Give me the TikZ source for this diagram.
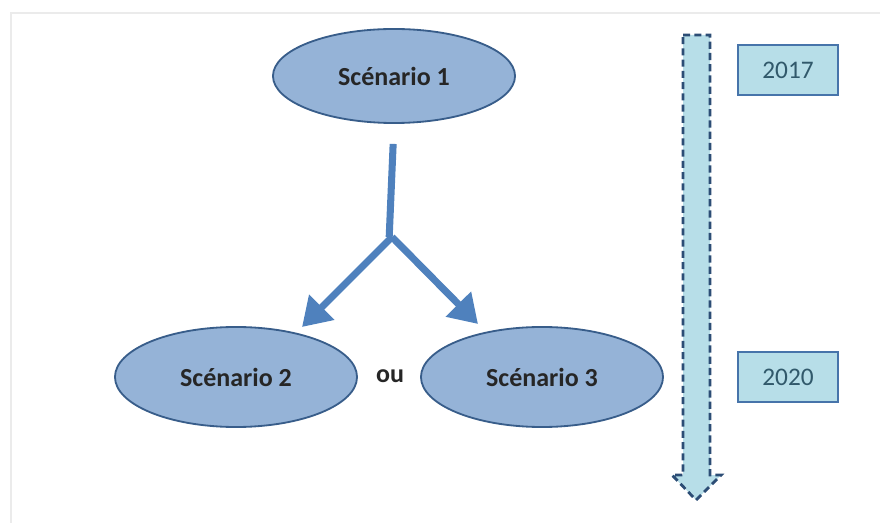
\documentclass[tikz,border=0pt]{standalone}
\usepackage{fontspec}
\setmainfont{Carlito}
\usepackage{xcolor}
\usetikzlibrary{arrows.meta,shapes.geometric}
\definecolor{sfill}{HTML}{95B3D7}
\definecolor{sdraw}{HTML}{385D8A}
\definecolor{sarrow}{HTML}{4F81BD}
\definecolor{tfill}{HTML}{B7DEE8}
\definecolor{tdraw}{HTML}{2C4D75}
\definecolor{ytext}{HTML}{31596B}

\begin{document}
\begin{tikzpicture}[x=0.025cm, y=-0.025cm,
    scen/.style={ellipse, fill=sfill, draw=sdraw, line width=1.3pt,
                 minimum width=6.05cm, minimum height=2.5cm, inner sep=0pt,
                 font=\fontsize{18.5}{21}\selectfont\bfseries, text=black!85},
    year/.style={rectangle, fill=tfill, draw=sarrow!90!black, line width=1.7pt,
                 minimum width=2.5cm, minimum height=1.25cm,
                 font=\fontsize{18}{21}\selectfont, text=ytext},
    branch/.style={draw=sarrow, line width=5pt},
    timeline/.style={fill=tfill, draw=tdraw, line width=2pt,
                     dash pattern=on 5pt off 3pt}]

    \useasboundingbox (0,0) rectangle (880,523);
    % faint frame
    \draw[black!8, line width=1pt] (11,523) -- (11,13) -- (880,13);

    % --- scenarios ---------------------------------------------------------
    \node[scen, minimum height=2.35cm] (s1) at (394,76) {Scénario 1};
    \node[scen] (s2) at (236,377) {Scénario 2};
    \node[scen] (s3) at (542,377) {Scénario 3};
    \node[font=\fontsize{18.5}{21}\selectfont\bfseries, text=black!85] (ou) at (390,376) {ou};

    % fork
    \coordinate (fork) at (392,237);
    \coordinate (tip2) at (302,327);
    \coordinate (tip3) at (478,324);
    \draw[branch, shorten <=0.5cm] (s1.south) -- ([xshift=-2pt]fork);
    \draw[branch, -{Triangle[length=0.7cm,width=0.85cm]}] (fork) -- (tip2);
    \draw[branch, -{Triangle[length=0.7cm,width=0.85cm]}] (fork) -- (tip3);

    % --- time line ---------------------------------------------------------
    \draw[timeline] (683,35) -- (710,35) -- (710,475) -- (721,475) -- (696,500)
        -- (672,475) -- (683,475) -- cycle;
    \node[year] (y1) at (788,70) {2017};
    \node[year] (y2) at (788,377) {2020};
\end{tikzpicture}
\end{document}
